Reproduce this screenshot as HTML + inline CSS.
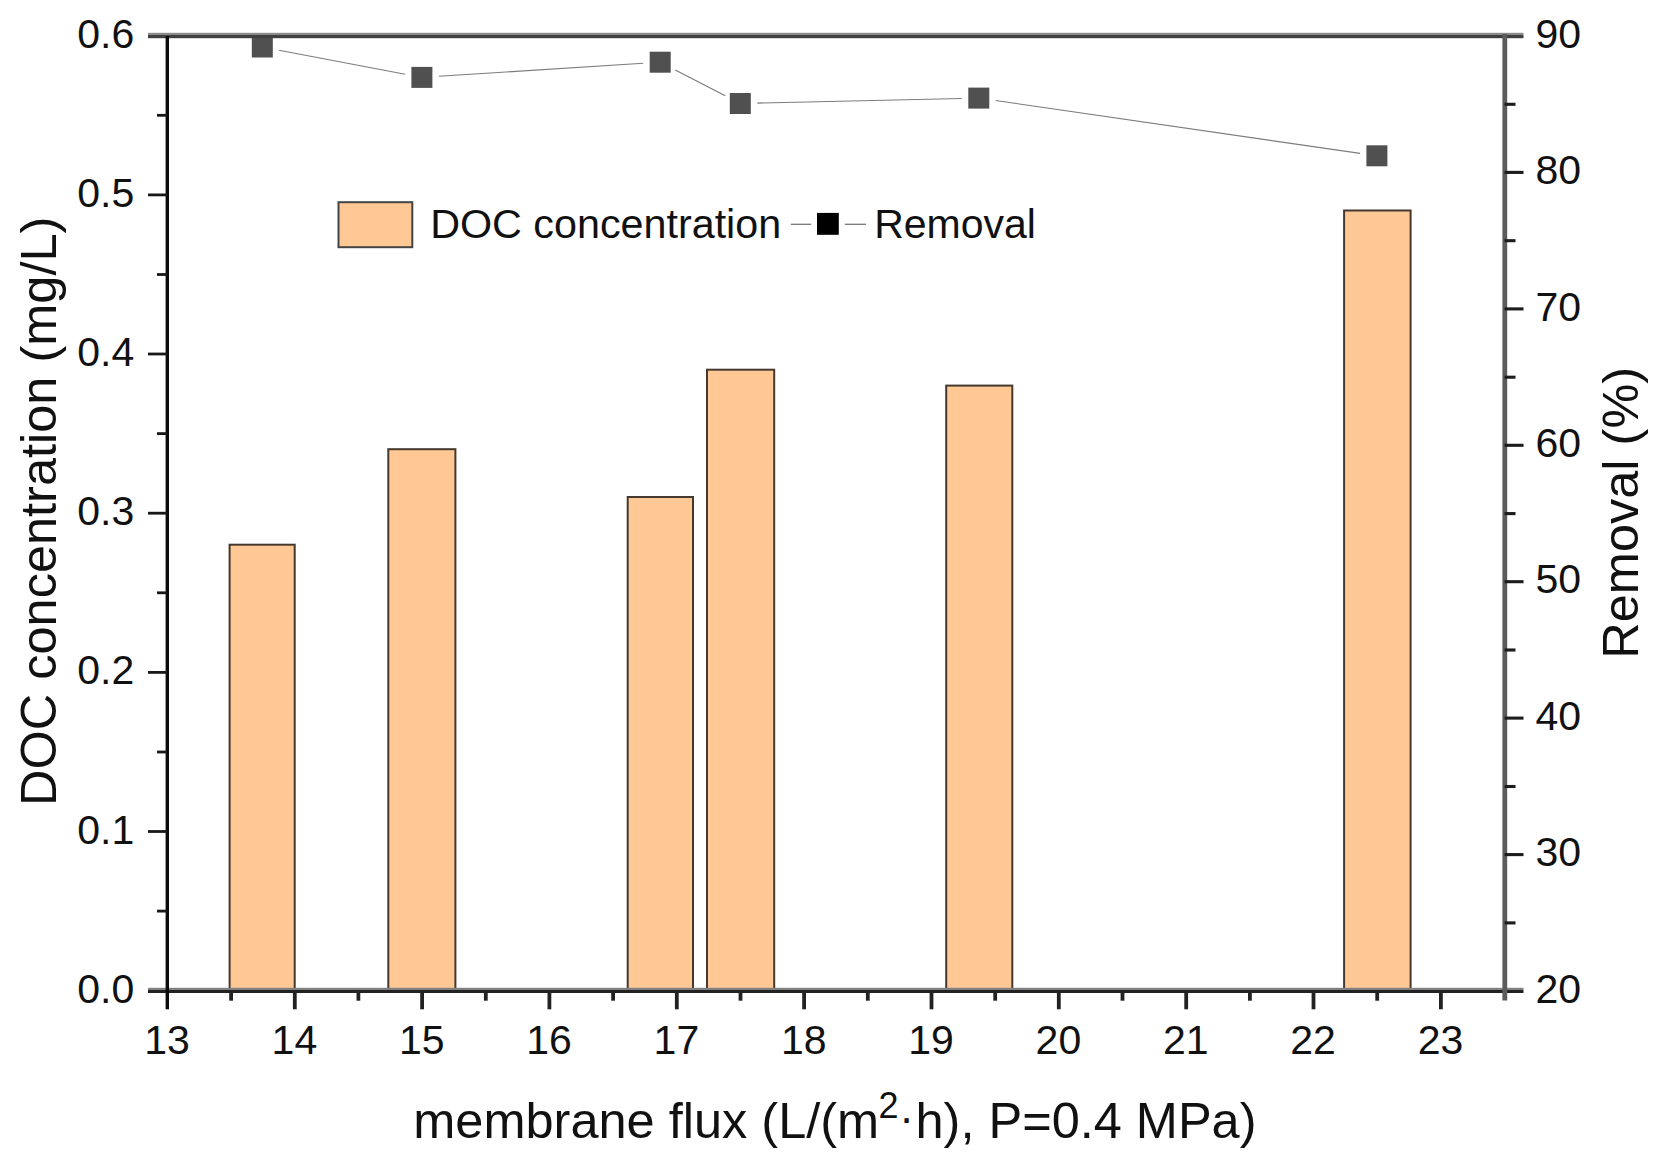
<!DOCTYPE html><html><head><meta charset="utf-8"><title>DOC concentration and Removal vs membrane flux</title>
<style>html,body{margin:0;padding:0;background:#fff}svg{display:block}text{font-family:"Liberation Sans",Arial,sans-serif;fill:#111}</style></head><body>
<svg width="1666" height="1162" viewBox="0 0 1666 1162">
<rect width="1666" height="1162" fill="#fff"/>
<g>
<g fill="#FFC895" stroke="#45382e" stroke-width="2">
<rect x="229.6" y="544.7" width="65.1" height="446.0"/>
<rect x="388.3" y="449.2" width="67.1" height="541.5"/>
<rect x="627.7" y="497.0" width="65.3" height="493.7"/>
<rect x="707.0" y="369.7" width="67.2" height="621.0"/>
<rect x="946.2" y="385.6" width="66.1" height="605.1"/>
<rect x="1344.1" y="210.5" width="66.5" height="780.2"/>
</g>
<g stroke="#7c7c7c" stroke-width="1.15" fill="none">
<line x1="279.0" y1="50.2" x2="405.2" y2="74.2"/>
<line x1="438.9" y1="76.3" x2="643.2" y2="63.3"/>
<line x1="675.3" y1="70.0" x2="725.2" y2="95.7"/>
<line x1="757.3" y1="103.1" x2="961.8" y2="98.5"/>
<line x1="995.6" y1="100.5" x2="1360.1" y2="153.4"/>
</g>
<g fill="#505050">
<rect x="251.8" y="36.5" width="21" height="21"/>
<rect x="411.4" y="66.9" width="21" height="21"/>
<rect x="649.7" y="51.7" width="21" height="21"/>
<rect x="729.8" y="93.0" width="21" height="21"/>
<rect x="968.3" y="87.6" width="21" height="21"/>
<rect x="1366.4" y="145.3" width="21" height="21"/>
</g>
<g>
<rect x="148" y="32.8" width="1375.5" height="2.2" fill="#8a8a8a"/>
<rect x="148" y="35" width="1375.5" height="3.2" fill="#404040"/>
<rect x="148" y="987.8" width="1375.5" height="2.2" fill="#808080"/>
<rect x="148" y="990" width="1375.5" height="3" fill="#222"/>
<rect x="1502.4" y="34" width="4.8" height="966.5" fill="#5c5c5c"/>
<rect x="165.6" y="36" width="3.4" height="973.3" fill="#0a0a0a"/>
</g>
<g stroke="#181818" stroke-width="2.8">
<line x1="157" y1="911.1" x2="167.4" y2="911.1"/>
<line x1="148" y1="831.5" x2="167.4" y2="831.5"/>
<line x1="157" y1="752.0" x2="167.4" y2="752.0"/>
<line x1="148" y1="672.4" x2="167.4" y2="672.4"/>
<line x1="157" y1="592.8" x2="167.4" y2="592.8"/>
<line x1="148" y1="513.2" x2="167.4" y2="513.2"/>
<line x1="157" y1="433.6" x2="167.4" y2="433.6"/>
<line x1="148" y1="354.0" x2="167.4" y2="354.0"/>
<line x1="157" y1="274.5" x2="167.4" y2="274.5"/>
<line x1="148" y1="194.9" x2="167.4" y2="194.9"/>
<line x1="157" y1="115.3" x2="167.4" y2="115.3"/>
</g><g stroke="#1c1c1c" stroke-width="3.1">
<line x1="1504.6" y1="922.9" x2="1515.5" y2="922.9"/>
<line x1="1504.6" y1="854.6" x2="1523.5" y2="854.6"/>
<line x1="1504.6" y1="786.5" x2="1515.5" y2="786.5"/>
<line x1="1504.6" y1="718.1" x2="1523.5" y2="718.1"/>
<line x1="1504.6" y1="650.0" x2="1515.5" y2="650.0"/>
<line x1="1504.6" y1="581.7" x2="1523.5" y2="581.7"/>
<line x1="1504.6" y1="513.6" x2="1515.5" y2="513.6"/>
<line x1="1504.6" y1="445.3" x2="1523.5" y2="445.3"/>
<line x1="1504.6" y1="377.2" x2="1515.5" y2="377.2"/>
<line x1="1504.6" y1="308.9" x2="1523.5" y2="308.9"/>
<line x1="1504.6" y1="240.7" x2="1515.5" y2="240.7"/>
<line x1="1504.6" y1="172.4" x2="1523.5" y2="172.4"/>
<line x1="1504.6" y1="104.3" x2="1515.5" y2="104.3"/>
</g><g stroke="#222" stroke-width="3.8">
<line x1="231.1" y1="990.7" x2="231.1" y2="1000.7"/>
<line x1="294.8" y1="990.7" x2="294.8" y2="1009.3"/>
<line x1="358.4" y1="990.7" x2="358.4" y2="1000.7"/>
<line x1="422.1" y1="990.7" x2="422.1" y2="1009.3"/>
<line x1="485.8" y1="990.7" x2="485.8" y2="1000.7"/>
<line x1="549.4" y1="990.7" x2="549.4" y2="1009.3"/>
<line x1="613.1" y1="990.7" x2="613.1" y2="1000.7"/>
<line x1="676.8" y1="990.7" x2="676.8" y2="1009.3"/>
<line x1="740.5" y1="990.7" x2="740.5" y2="1000.7"/>
<line x1="804.1" y1="990.7" x2="804.1" y2="1009.3"/>
<line x1="867.8" y1="990.7" x2="867.8" y2="1000.7"/>
<line x1="931.5" y1="990.7" x2="931.5" y2="1009.3"/>
<line x1="995.2" y1="990.7" x2="995.2" y2="1000.7"/>
<line x1="1058.8" y1="990.7" x2="1058.8" y2="1009.3"/>
<line x1="1122.5" y1="990.7" x2="1122.5" y2="1000.7"/>
<line x1="1186.2" y1="990.7" x2="1186.2" y2="1009.3"/>
<line x1="1249.9" y1="990.7" x2="1249.9" y2="1000.7"/>
<line x1="1313.5" y1="990.7" x2="1313.5" y2="1009.3"/>
<line x1="1377.2" y1="990.7" x2="1377.2" y2="1000.7"/>
<line x1="1440.9" y1="990.7" x2="1440.9" y2="1009.3"/>
</g>
<g font-size="41">
<g text-anchor="end">
<text x="134.3" y="1002.7">0.0</text>
<text x="134.3" y="843.5">0.1</text>
<text x="134.3" y="684.4">0.2</text>
<text x="134.3" y="525.2">0.3</text>
<text x="134.3" y="366.0">0.4</text>
<text x="134.3" y="206.9">0.5</text>
<text x="134.3" y="47.7">0.6</text>
</g><g text-anchor="start">
<text x="1535.4" y="1002.7">20</text>
<text x="1535.4" y="866.3">30</text>
<text x="1535.4" y="729.8">40</text>
<text x="1535.4" y="593.4">50</text>
<text x="1535.4" y="457.0">60</text>
<text x="1535.4" y="320.6">70</text>
<text x="1535.4" y="184.1">80</text>
<text x="1535.4" y="47.7">90</text>
</g><g text-anchor="middle">
<text x="167.0" y="1054.3">13</text>
<text x="294.4" y="1054.3">14</text>
<text x="421.7" y="1054.3">15</text>
<text x="549.0" y="1054.3">16</text>
<text x="676.4" y="1054.3">17</text>
<text x="803.8" y="1054.3">18</text>
<text x="931.1" y="1054.3">19</text>
<text x="1058.4" y="1054.3">20</text>
<text x="1185.8" y="1054.3">21</text>
<text x="1313.1" y="1054.3">22</text>
<text x="1440.5" y="1054.3">23</text>
</g>
<rect x="338.5" y="202.2" width="73.8" height="45" fill="#FFC895" stroke="#444" stroke-width="2"/>
<text x="430.2" y="237.6" textLength="351" lengthAdjust="spacingAndGlyphs">DOC concentration</text>
<g stroke="#777" stroke-width="1.3"><line x1="790.8" y1="224.3" x2="811.2" y2="224.3"/><line x1="844.8" y1="224.3" x2="866" y2="224.3"/></g>
<rect x="817" y="212.9" width="21.8" height="21.9" fill="#000"/>
<text x="874.2" y="237.6">Removal</text>
</g>
<g font-size="50.5">
<text transform="translate(56 806) rotate(-90)">DOC concentration (mg/L)</text>
<text transform="translate(1637.5 658.7) rotate(-90)">Removal (%)</text>
<text x="413.3" y="1137.5">membrane flux (L/(m<tspan font-size="36" x="878.6" dy="-19.4">2</tspan><tspan font-size="44" x="899.3" dy="15.1">·</tspan><tspan x="915.5" dy="4.3">h), P=0.4 MPa)</tspan></text>
</g>
</g></svg></body></html>
